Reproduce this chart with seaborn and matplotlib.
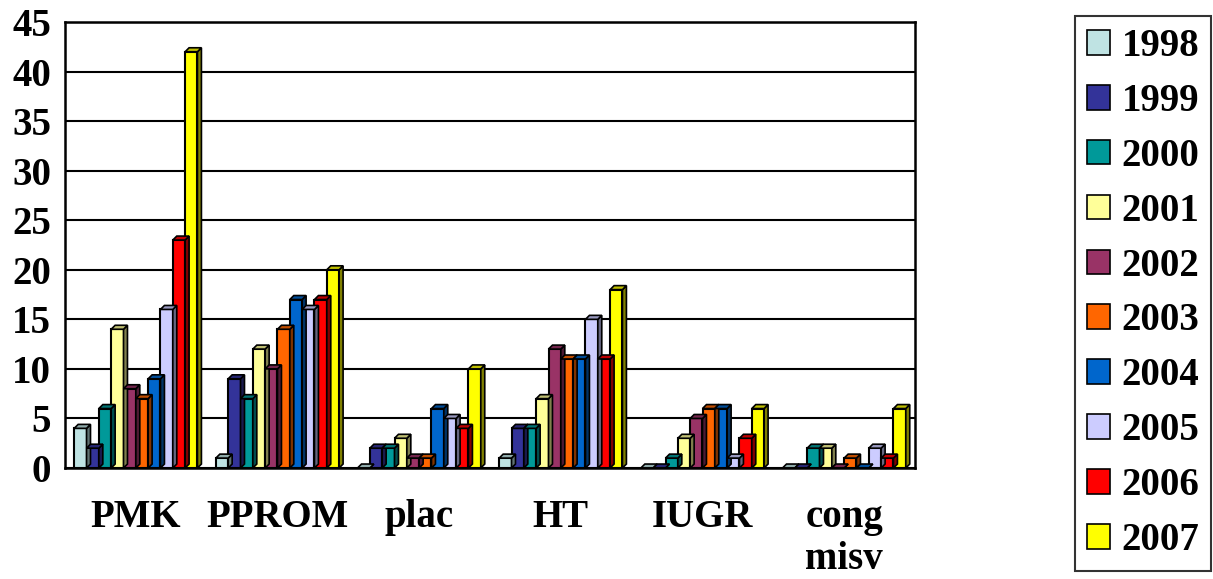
import matplotlib
matplotlib.use("Agg")
import matplotlib.pyplot as plt
import seaborn as sns
import pandas as pd
import numpy as np
from matplotlib.patches import Polygon, Patch

categories = ["PMK", "PPROM", "plac", "HT", "IUGR", "cong\nmisv"]
years = ["1998", "1999", "2000", "2001", "2002", "2003", "2004", "2005", "2006", "2007"]
v1998 = [4, 1, 0, 1, 0, 0]
v1999 = [2, 9, 2, 4, 0, 0]
v2000 = [6, 7, 2, 4, 1, 2]
v2001 = [14, 12, 3, 7, 3, 2]
v2002 = [8, 10, 1, 12, 5, 0]
v2003 = [7, 14, 1, 11, 6, 1]
v2004 = [9, 17, 6, 11, 6, 0]
v2005 = [16, 16, 5, 15, 1, 2]
v2006 = [23, 17, 4, 11, 3, 1]
v2007 = [42, 20, 10, 18, 6, 6]
colors = ["#BFE3E3", "#333399", "#009999", "#FFFF99", "#993366",
          "#FF6600", "#0066CC", "#CCCCFF", "#FF0000", "#FFFF00"]

series = [v1998, v1999, v2000, v2001, v2002, v2003, v2004, v2005, v2006, v2007]
rows = []
for y, vals in zip(years, series):
    for c, v in zip(categories, vals):
        rows.append({"cat": c, "year": y, "value": v})
df = pd.DataFrame(rows)

sns.set_style("white")
plt.rcParams["font.family"] = ["Liberation Serif", "DejaVu Serif"]
plt.rcParams["font.weight"] = "bold"
plt.rcParams["text.color"] = "black"
plt.rcParams["xtick.color"] = "black"
plt.rcParams["ytick.color"] = "black"
plt.rcParams["axes.labelcolor"] = "black"

fig = plt.figure(figsize=(12.13, 5.79), dpi=100)
ax = fig.add_axes([65 / 1213, 1 - 468 / 579, 850 / 1213, 446 / 579])

sns.barplot(data=df, x="cat", y="value", hue="year", palette=colors,
            hue_order=years, order=categories, width=0.87, ax=ax,
            edgecolor="black", linewidth=1.5, legend=False, saturation=1)

ax.set_ylim(0, 45)
ax.set_xlim(-0.5, len(categories) - 0.5)

# pseudo-3D sides and tops derived from the drawn bars
dx, dy = 0.028, 0.4
bars = list(ax.patches)
for p in bars:
    x0, w, h = p.get_x(), p.get_width(), p.get_height()
    col = np.array(p.get_facecolor()[:3])
    side = Polygon([[x0 + w, 0], [x0 + w + dx, dy], [x0 + w + dx, h + dy], [x0 + w, h]],
                   closed=True, facecolor=col * 0.5, edgecolor="black", linewidth=1.2, zorder=p.get_zorder())
    top = Polygon([[x0, h], [x0 + dx, h + dy], [x0 + w + dx, h + dy], [x0 + w, h]],
                  closed=True, facecolor=col * 0.75, edgecolor="black", linewidth=1.2, zorder=p.get_zorder())
    ax.add_patch(side)
    ax.add_patch(top)

ax.set_yticks(range(0, 46, 5))
ax.yaxis.grid(True, color="black", linewidth=1.5)
ax.set_axisbelow(True)
for s in ax.spines.values():
    s.set_visible(True)
    s.set_color("black")
    s.set_linewidth(1.8)

ax.set_xlabel("")
ax.set_ylabel("")
ax.set_xticks(range(len(categories)))
ax.set_xticklabels(categories, fontsize=28, fontweight="bold", va="top", linespacing=1.2, color="black")
ax.set_xticks(np.arange(-0.5, len(categories), 1.0), minor=True)
ax.tick_params(axis="x", which="major", length=0, pad=22)
ax.tick_params(axis="x", which="minor", length=9, width=1.5, direction="out", color="black")
ax.tick_params(axis="y", length=7, width=1.5, direction="out", color="black", labelsize=28, pad=3,
               labelcolor="black")
for t in ax.get_yticklabels():
    t.set_fontweight("bold")

handles = [Patch(facecolor=c, edgecolor="black", linewidth=1.2) for c in colors]
leg = fig.legend(handles, years, loc="center left",
                 bbox_to_anchor=(1075 / 1213, 1 - 293.5 / 579),
                 prop={"family": "Liberation Serif", "weight": "bold", "size": 28},
                 frameon=True, fancybox=False, edgecolor="black",
                 handlelength=0.6, handleheight=0.6, handletextpad=0.3,
                 labelspacing=0.46, borderpad=0.3, borderaxespad=0)
leg.get_frame().set_linewidth(1.5)
for t in leg.get_texts():
    t.set_color("black")

fig.savefig("out.png", dpi=100)
